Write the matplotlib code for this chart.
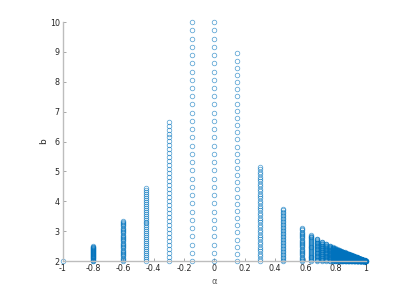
import numpy as np
import matplotlib
matplotlib.use('Agg')
import matplotlib.pyplot as plt

# alpha values of each column, the top b value reached in it, and how many points it holds
alpha = [-1.0, -0.8, -0.6, -0.45, -0.3, -0.15, 0.0, 0.15, 0.3, 0.45,
         0.578, 0.635, 0.678, 0.712, 0.739, 0.762, 0.781, 0.797, 0.811,
         0.823, 0.834, 0.843, 0.85, 0.86, 0.87, 0.88, 0.89, 0.90, 0.91,
         0.92, 0.93, 0.94, 0.95, 0.96, 0.97, 0.98, 0.99, 1.0]
b_top = [2.0, 2.5, 3.35, 4.45, 6.67, 10.0, 10.0, 8.95, 5.15, 3.75,
         3.10, 2.88, 2.75, 2.65, 2.58, 2.52, 2.47, 2.43, 2.40,
         2.37, 2.34, 2.32, 2.31, 2.29, 2.27, 2.25, 2.23, 2.21, 2.19,
         2.17, 2.15, 2.13, 2.105, 2.085, 2.065, 2.04, 2.02, 2.0]
n_pts = [1, 30, 36, 38, 36, 30, 30, 30, 40, 36,
         30, 30, 30, 30, 30, 30, 30, 30, 30,
         30, 30, 30, 30, 30, 30, 30, 30, 30, 30,
         30, 30, 30, 30, 30, 30, 30, 30, 4]
b_min = 2.0

xticks = [-1, -0.8, -0.6, -0.4, -0.2, 0, 0.2, 0.4, 0.6, 0.8, 1]
xlabels = ['-1', '-0.8', '-0.6', '-0.4', '-0.2', '0', '0.2', '0.4', '0.6', '0.8', '1']
yticks = [2, 3, 4, 5, 6, 7, 8, 9, 10]

xs = []
ys = []
for a, top, n in zip(alpha, b_top, n_pts):
    col = np.linspace(b_min, top, n)
    xs.extend([a] * len(col))
    ys.extend(col)

fig = plt.figure(figsize=(4.15, 2.94), dpi=100)
ax = fig.add_axes([0.151, 0.112, 0.731, 0.813])
ax.plot(xs, ys, 'o', mfc='none', mec='#0072BD', ms=3.3, mew=0.55,
        alpha=0.65, clip_on=False)

ax.set_xlim(-1, 1)
ax.set_ylim(2, 10)
ax.set_xticks(xticks)
ax.set_xticklabels(xlabels)
ax.set_yticks(yticks)
for s in ['top', 'right']:
    ax.spines[s].set_visible(False)
for s in ['left', 'bottom']:
    ax.spines[s].set_color('#bdbdbd')
    ax.spines[s].set_linewidth(1.0)
ax.tick_params(direction='in', length=2.5, width=0.6, colors='#9a9a9a',
               labelcolor='#262626', labelsize=5.8, pad=2)
ax.set_xlabel('\u03b1', fontsize=6, color='#555555', labelpad=3)
ax.set_ylabel('b', fontsize=6.5, color='#262626', labelpad=1)

fig.savefig('out.png', dpi=100)
